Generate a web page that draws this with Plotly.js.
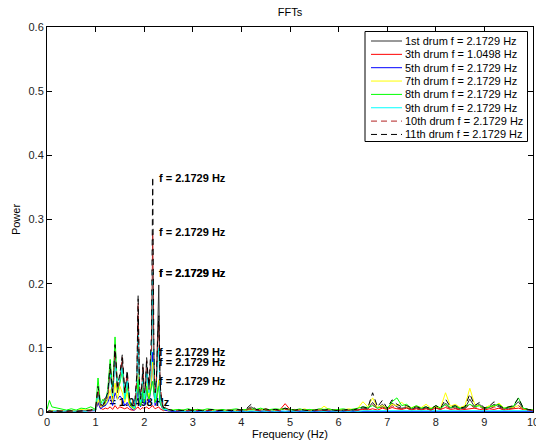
<!DOCTYPE html>
<html>
<head>
<meta charset="utf-8">
<script src="https://cdn.plot.ly/plotly-3.0.1.min.js"></script>
<style>html,body{margin:0;padding:0;background:#fff;}#chart{width:536px;height:441px;}</style>
</head>
<body>
<div id="chart"></div>
<script>
// Frequency grid (Hz)
var freq = [0,0.05,0.1,0.2,0.3,0.4,0.5,0.6,0.7,0.8,0.9,
  1.00,1.05,1.10,1.15,1.20,1.25,1.30,1.35,1.40,1.45,1.50,1.55,1.60,1.65,1.70,1.75,
  1.800,1.825,1.850,1.875,1.900,1.925,1.950,1.975,2.000,2.025,2.050,2.075,2.100,2.125,2.150,2.175,2.200,2.225,2.250,2.275,2.300,2.325,2.350,2.375,2.400,
  2.45,2.5,2.55,2.6,
  2.7,2.8,2.9,3.0,3.1,3.2,3.3,3.4,3.5,3.6,
  3.7,3.8,3.9,4.0,4.1,4.2,4.3,4.4,4.5,4.6,
  4.7,4.8,4.9,5.0,5.1,5.2,5.3,5.4,5.5,5.6,
  5.7,5.8,5.9,6.0,6.1,6.2,6.3,6.4,6.5,6.6,
  6.7,6.8,6.9,7.0,7.1,7.2,7.3,7.4,7.5,7.6,
  7.7,7.8,7.9,8.0,8.1,8.2,8.3,8.4,8.5,8.6,
  8.7,8.8,8.9,9.0,9.1,9.2,9.3,9.4,9.5,9.6,
  9.7,9.8,9.9,10.0];

var drum1 = [0,.002,.002,.001,.002,.001,.002,.001,.002,.002,.003,
  .004,.03,.01,.008,.015,.02,.07,.02,.09,.03,.05,.08,.025,.055,.015,.008,
  .008,.02,.05,.15,.04,.015,.03,.065,.025,.03,.075,.05,.03,.065,.09,.217,.07,.025,.04,.12,.198,.04,.015,.01,.005,
  .006,.003,.003,.002,
  .003,.002,.003,.002,.004,.002,.002,.003,.002,.003,
  .002,.003,.003,.002,.004,.008,.003,.004,.003,.002,
  .003,.004,.005,.003,.004,.003,.002,.003,.002,.003,
  .003,.003,.002,.003,.002,.003,.004,.003,.006,.005,
  .015,.006,.012,.005,.014,.008,.006,.007,.005,.006,
  .005,.006,.004,.008,.005,.014,.006,.008,.005,.006,
  .020,.008,.012,.005,.007,.012,.008,.005,.006,.008,
  .016,.005,.004,.003];

var drum3 = [0,.001,.002,.001,.001,.002,.001,.001,.002,.001,.002,
  .003,.015,.006,.004,.006,.005,.008,.004,.01,.005,.008,.006,.005,.007,.004,.003,
  .003,.005,.006,.008,.005,.004,.006,.007,.005,.006,.008,.006,.005,.007,.008,.01,.007,.005,.006,.007,.008,.005,.004,.003,.002,
  .003,.002,.003,.002,
  .002,.003,.002,.004,.002,.003,.002,.003,.002,.003,
  .002,.003,.002,.003,.002,.004,.003,.002,.004,.003,
  .003,.004,.013,.004,.003,.004,.002,.003,.002,.003,
  .002,.003,.002,.003,.002,.003,.002,.003,.004,.003,
  .005,.003,.006,.004,.007,.005,.004,.006,.003,.005,
  .003,.005,.003,.006,.004,.007,.004,.005,.003,.004,
  .005,.006,.004,.003,.005,.004,.006,.003,.004,.005,
  .006,.004,.003,.002];

var drum5 = [0,.001,.001,.001,.001,.001,.001,.001,.001,.001,.002,
  .002,.015,.005,.008,.01,.015,.025,.01,.03,.02,.025,.02,.01,.015,.008,.004,
  .003,.01,.02,.04,.015,.008,.015,.03,.012,.015,.04,.025,.015,.03,.045,.093,.03,.01,.015,.03,.045,.015,.008,.005,.003,
  .002,.002,.001,.001,
  .001,.001,.001,.001,.001,.001,.001,.001,.001,.001,
  .001,.001,.001,.001,.001,.001,.001,.001,.001,.001,
  .001,.001,.001,.001,.001,.001,.001,.001,.001,.001,
  .001,.001,.001,.001,.001,.001,.001,.001,.001,.001,
  .001,.002,.001,.001,.002,.001,.002,.001,.001,.002,
  .001,.002,.001,.002,.001,.002,.001,.002,.001,.002,
  .002,.001,.002,.001,.002,.001,.002,.001,.002,.001,
  .002,.001,.001,.001];

var drum7 = [0,.003,.002,.002,.003,.002,.003,.002,.004,.003,.004,
  .003,.02,.008,.01,.012,.02,.035,.015,.045,.02,.04,.03,.015,.03,.01,.006,
  .004,.015,.03,.06,.025,.01,.02,.05,.02,.025,.045,.03,.02,.04,.05,.078,.04,.015,.02,.04,.05,.02,.01,.006,.003,
  .004,.003,.002,.003,
  .003,.002,.003,.002,.004,.002,.003,.002,.003,.002,
  .002,.003,.002,.004,.003,.002,.004,.003,.005,.002,
  .003,.004,.005,.003,.004,.003,.005,.002,.004,.003,
  .009,.004,.003,.004,.003,.005,.004,.006,.016,.008,
  .022,.007,.010,.006,.012,.010,.015,.008,.007,.009,
  .007,.012,.006,.008,.007,.030,.009,.012,.007,.010,
  .037,.012,.009,.006,.010,.008,.014,.006,.008,.007,
  .010,.005,.004,.003];

var drum8 = [.004,.018,.008,.006,.004,.003,.005,.003,.006,.005,.008,
  .004,.053,.012,.02,.015,.035,.082,.03,.117,.035,.045,.065,.02,.04,.015,.008,
  .005,.015,.03,.05,.02,.01,.02,.035,.015,.02,.04,.025,.02,.03,.035,.048,.03,.015,.02,.035,.04,.015,.01,.006,.004,
  .005,.003,.004,.003,
  .004,.003,.005,.003,.004,.003,.005,.004,.003,.004,
  .003,.004,.005,.003,.004,.005,.004,.006,.003,.004,
  .005,.004,.006,.004,.003,.005,.003,.004,.003,.005,
  .004,.005,.003,.004,.005,.003,.004,.006,.008,.007,
  .010,.006,.008,.005,.016,.022,.010,.012,.006,.010,
  .006,.008,.005,.010,.006,.012,.007,.009,.006,.008,
  .012,.008,.010,.005,.008,.010,.012,.006,.007,.009,
  .022,.006,.004,.003];

var drum9 = [0,.002,.001,.002,.001,.002,.001,.002,.002,.001,.003,
  .003,.03,.01,.015,.02,.03,.06,.025,.08,.04,.05,.07,.02,.05,.02,.01,
  .006,.02,.045,.12,.04,.015,.03,.06,.02,.03,.07,.04,.03,.06,.08,.217,.06,.02,.04,.08,.1,.03,.012,.008,.004,
  .004,.003,.002,.002,
  .002,.001,.002,.001,.002,.001,.002,.001,.002,.001,
  .001,.002,.001,.002,.001,.002,.001,.002,.001,.002,
  .001,.002,.001,.002,.001,.002,.001,.001,.002,.001,
  .001,.002,.001,.001,.002,.001,.002,.001,.002,.002,
  .002,.002,.003,.002,.003,.002,.002,.003,.002,.002,
  .002,.002,.002,.003,.002,.003,.002,.002,.002,.003,
  .003,.002,.002,.002,.003,.002,.002,.002,.002,.003,
  .003,.002,.002,.002];

var drum10 = [0,.001,.001,.001,.002,.001,.001,.002,.001,.002,.002,
  .005,.035,.01,.012,.018,.025,.065,.028,.095,.035,.055,.085,.028,.06,.018,.01,
  .01,.025,.055,.17,.045,.02,.035,.07,.03,.035,.08,.055,.035,.07,.1,.28,.08,.03,.045,.1,.14,.045,.02,.01,.005,
  .006,.004,.003,.002,
  .002,.002,.003,.002,.002,.002,.003,.002,.002,.002,
  .002,.002,.003,.002,.003,.006,.003,.002,.003,.002,
  .003,.002,.004,.003,.002,.003,.002,.002,.002,.003,
  .002,.003,.002,.002,.002,.003,.002,.003,.005,.004,
  .012,.005,.008,.004,.010,.006,.005,.006,.004,.005,
  .004,.005,.003,.006,.004,.010,.005,.006,.004,.005,
  .012,.006,.008,.004,.005,.008,.006,.004,.005,.006,
  .010,.004,.003,.002];

var drum11 = [0,.002,.001,.002,.001,.002,.002,.001,.002,.002,.003,
  .006,.04,.012,.01,.02,.03,.075,.03,.105,.04,.06,.09,.03,.065,.02,.01,
  .01,.03,.06,.182,.05,.02,.04,.075,.03,.04,.085,.06,.04,.08,.12,.366,.09,.03,.05,.11,.15,.05,.02,.012,.006,
  .008,.004,.003,.002,
  .003,.002,.004,.002,.003,.002,.003,.004,.002,.003,
  .003,.002,.004,.003,.005,.012,.004,.003,.005,.003,
  .004,.003,.006,.004,.003,.004,.003,.002,.003,.004,
  .003,.004,.003,.002,.003,.004,.003,.005,.008,.006,
  .030,.008,.018,.006,.019,.012,.008,.010,.006,.008,
  .006,.008,.005,.010,.006,.020,.008,.010,.006,.008,
  .028,.010,.015,.006,.009,.016,.010,.006,.008,.010,
  .022,.006,.004,.003];

var seriesNames = ['1st drum', '3th drum', '5th drum', '7th drum', '8th drum', '9th drum', '10th drum', '11th drum'];
var seriesData = [drum1, drum3, drum5, drum7, drum8, drum9, drum10, drum11];
var peakFreq = [2.1729, 1.0498, 2.1729, 2.1729, 2.1729, 2.1729, 2.1729, 2.1729];
var peakPower = [0.217, 0.014, 0.093, 0.078, 0.048, 0.217, 0.280, 0.365];
var colors = ['#333333', '#ff0000', '#0000ff', '#ffff00', '#00ff00', '#00ffff', '#b22222', '#000000'];
var dashes = ['solid', 'solid', 'solid', 'solid', 'solid', 'solid', '6px,4px', '6px,4px'];

var FONT = 'Liberation Sans, Arial, sans-serif';
var W = 536, H = 441, ML = 47, MR = 3, MT = 27, MB = 29;
var PW = W - ML - MR, PH = H - MT - MB;
function px2x(px) { return (px - ML) / PW; }
function px2y(py) { return (H - MB - py) / PH; }

var traces = [];
// label for the 3rd drum, drawn under the lines
traces.push({
  x: [peakFreq[1] + 0.1], y: [peakPower[1]], mode: 'text', type: 'scatter',
  text: ['<b>f = ' + peakFreq[1].toFixed(4) + ' Hz</b>'], textposition: 'middle right',
  textfont: {family: FONT, size: 11, color: '#000'}, showlegend: false, hoverinfo: 'skip'
});
for (var i = 0; i < seriesNames.length; i++) {
  traces.push({
    x: freq, y: seriesData[i], type: 'scatter', mode: 'lines',
    name: seriesNames[i] + ' f = ' + peakFreq[i].toFixed(4) + ' Hz',
    line: {color: colors[i], width: 1, dash: dashes[i]}, showlegend: false
  });
}

var annotations = [];
for (var j = 0; j < seriesNames.length; j++) {
  if (j === 1) continue;
  annotations.push({
    x: peakFreq[j] + 0.1, y: peakPower[j], xref: 'x', yref: 'y',
    text: '<b>f = ' + peakFreq[j].toFixed(4) + ' Hz</b>', showarrow: false,
    xanchor: 'left', yanchor: 'middle', font: {family: FONT, size: 11, color: '#000'}
  });
}

// MATLAB-style legend box
var shapes = [{
  type: 'rect', xref: 'paper', yref: 'paper', layer: 'above',
  x0: px2x(365), x1: px2x(527.5), y0: px2y(141.5), y1: px2y(31.5),
  line: {color: '#000', width: 1}, fillcolor: '#fff'
}];
for (var k = 0; k < seriesNames.length; k++) {
  var rowY = 41 + k * 13.35;
  shapes.push({
    type: 'line', xref: 'paper', yref: 'paper', layer: 'above',
    x0: px2x(371), x1: px2x(402), y0: px2y(rowY), y1: px2y(rowY),
    line: {color: colors[k], width: 1, dash: dashes[k]}
  });
  annotations.push({
    xref: 'paper', yref: 'paper', x: px2x(403), y: px2y(rowY), xanchor: 'left', yanchor: 'middle',
    text: seriesNames[k] + ' f = ' + peakFreq[k].toFixed(4) + ' Hz', showarrow: false,
    font: {family: FONT, size: 11, color: '#000'}
  });
}

var axisCommon = {
  showgrid: false, zeroline: false, showline: true, linecolor: '#000', linewidth: 1,
  mirror: 'ticks', ticks: 'inside', ticklen: 5, tickcolor: '#000', tickwidth: 1,
  tickfont: {family: FONT, size: 11, color: '#222'}, ticklabeloverflow: 'allow'
};

var layout = {
  width: W, height: H,
  margin: {l: ML, r: MR, t: MT, b: MB},
  paper_bgcolor: '#fff', plot_bgcolor: '#fff',
  title: {text: 'FFTs', font: {family: FONT, size: 11, color: '#000'}, x: 0.5, xref: 'paper', y: 1 - 12/441, yref: 'container', yanchor: 'middle'},
  xaxis: Object.assign({}, axisCommon, {range: [0, 10], dtick: 1, tick0: 0,
    title: {text: 'Frequency (Hz)', font: {family: FONT, size: 11, color: '#000'}, standoff: 3}}),
  yaxis: Object.assign({}, axisCommon, {range: [0, 0.6], dtick: 0.1, tick0: 0,
    title: {text: 'Power', font: {family: FONT, size: 11, color: '#000'}, standoff: 5}}),
  showlegend: false,
  shapes: shapes,
  annotations: annotations
};

Plotly.newPlot('chart', traces, layout, {displayModeBar: false, staticPlot: true});
</script>
</body>
</html>
